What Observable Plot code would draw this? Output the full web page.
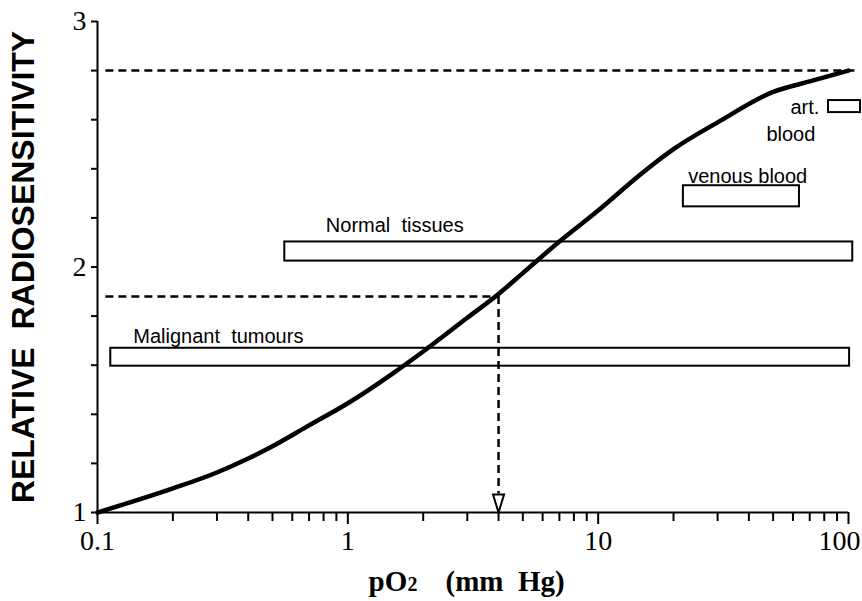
<!DOCTYPE html>
<html>
<head>
<meta charset="utf-8">
<script src="https://cdn.jsdelivr.net/npm/d3@7"></script>
<script src="https://cdn.jsdelivr.net/npm/@observablehq/plot@0.6"></script>
<style>
  html, body { margin: 0; padding: 0; background: white; }
</style>
</head>
<body>
<div id="chart"></div>
<script>
// Curve: relative radiosensitivity vs pO2 (mm Hg)
const po2 = [0.1, 0.2, 0.3, 0.4, 0.5, 0.7, 1, 1.5, 2, 3, 4, 5, 7, 10, 15, 20, 30, 50, 70, 100];
const sensitivity = [1.00, 1.098, 1.163, 1.22, 1.27, 1.355, 1.445, 1.564, 1.656, 1.793, 1.89, 1.975, 2.104, 2.23, 2.383, 2.48, 2.589, 2.713, 2.756, 2.80];

// Range boxes (pO2 range x sensitivity range)
const boxNames = ["Malignant tumours", "Normal tissues", "venous blood", "art. blood"];
const boxX1 = [0.113, 0.56, 21.9, 83.2];
const boxX2 = [101, 104, 63.7, 111.7];
const boxY1 = [1.596, 2.024, 2.245, 2.629];
const boxY2 = [1.669, 2.102, 2.331, 2.678];

// Box labels
const labelText = ["Normal\u00a0 tissues", "Malignant\u00a0 tumours", "venous blood", "art.", "blood"];
const labelX = [0.817, 0.139, 22.9, 58.6, 47];
const labelY = [2.141, 1.692, 2.344, 2.625, 2.515];

// Dashed reference lines
const refY = [2.8, 1.88];
const refX1 = [0.108, 0.108];
const refX2 = [107, 4];
const dropX = [4];
const dropY1 = [1.88];
const dropY2 = [1.075];

// Axes
const xMajorTicks = [0.1, 1, 10, 100];
const xMajorLabels = ["0.1", "1", "10", "100"];
const xMinorTicks = [0.2, 0.3, 0.4, 0.5, 0.6, 0.7, 0.8, 0.9, 2, 3, 4, 5, 6, 7, 8, 9, 20, 30, 40, 50, 60, 70, 80, 90];
const yTicks = [1, 1.2, 1.4, 1.6, 1.8, 2, 2.2, 2.4, 2.6, 2.8, 3];
const yTickLabels = ["1", "", "", "", "", "2", "", "", "", "", "3"];
const xTitle = ["pO", "2", "(mm\u00a0 Hg)"];
const yTitle = "RELATIVE\u00a0\u00a0RADIOSENSITIVITY";

const curveData = po2.map((x, i) => ({x, y: sensitivity[i]}));
const boxes = boxNames.map((name, i) => ({name, x1: boxX1[i], x2: boxX2[i], y1: boxY1[i], y2: boxY2[i]}));
const labels = labelText.map((t, i) => ({t, x: labelX[i], y: labelY[i]}));
const refs = refY.map((y, i) => ({y, x1: refX1[i], x2: refX2[i]}));
const drops = dropX.map((x, i) => ({x, y1: dropY1[i], y2: dropY2[i]}));
const xLabels = xMajorTicks.map((x, i) => ({x, t: xMajorLabels[i]}));
const xLabelsInner = xLabels.slice(0, -1);
const xLabelsLast = xLabels.slice(-1);
const yLabels = yTicks.map((y, i) => ({y, t: yTickLabels[i]})).filter(d => d.t !== "");

const openTriangle = {
  draw(context) {
    context.moveTo(-5.5, -18);
    context.lineTo(5.5, -18);
    context.lineTo(0, 0);
    context.closePath();
  }
};

const serif = "'Liberation Serif', 'Times New Roman', serif";
const sans = "'Liberation Sans', Arial, sans-serif";

const chart = Plot.plot({
  width: 862,
  height: 601,
  marginLeft: 97,
  marginRight: 14,
  marginTop: 21,
  marginBottom: 89,
  x: {type: "log", domain: [0.1, 100]},
  y: {domain: [1, 3]},
  style: {background: "white", fontFamily: serif, color: "black", overflow: "visible"},
  marks: [
    Plot.rect(boxes, {x1: "x1", x2: "x2", y1: "y1", y2: "y2", fill: "none", stroke: "black", strokeWidth: 2}),
    Plot.text(labels, {x: "x", y: "y", text: "t", textAnchor: "start", lineAnchor: "bottom", fontFamily: sans, fontSize: 20, fill: "black"}),
    Plot.ruleY(refs, {y: "y", x1: "x1", x2: "x2", stroke: "black", strokeWidth: 2.5, strokeDasharray: "8,5"}),
    Plot.ruleX(drops, {x: "x", y1: "y1", y2: "y2", stroke: "black", strokeWidth: 2.5, strokeDasharray: "8,5"}),
    Plot.line(curveData, {x: "x", y: "y", stroke: "black", strokeWidth: 4.5, curve: "monotone-x"}),
    // axis lines
    Plot.ruleX([0.1], {y1: 1, y2: 3, stroke: "black", strokeWidth: 2}),
    Plot.ruleY([1], {x1: 0.1, x2: 100, stroke: "black", strokeWidth: 2}),
    // ticks
    Plot.axisX(xMinorTicks, {tickSize: 9, tickFormat: () => "", strokeWidth: 2, label: null}),
    Plot.axisX(xMajorTicks, {tickSize: 12, tickFormat: () => "", strokeWidth: 2, label: null}),
    Plot.axisY(yTicks, {tickSize: 6, tickFormat: () => "", strokeWidth: 2, label: null}),
    // tick labels
    Plot.text(xLabelsInner, {x: "x", text: "t", frameAnchor: "bottom", dy: 18, lineAnchor: "top", textAnchor: "middle", fontSize: 28, fontFamily: serif, fill: "black"}),
    Plot.text(xLabelsLast, {x: "x", text: "t", frameAnchor: "bottom", dx: 12, dy: 18, lineAnchor: "top", textAnchor: "end", fontSize: 28, fontFamily: serif, fill: "black"}),
    Plot.text(yLabels, {y: "y", text: "t", frameAnchor: "left", dx: -11, lineAnchor: "middle", textAnchor: "end", fontSize: 28, fontFamily: serif, fill: "black"}),
    // drop arrow head
    Plot.dot(dropX, {x: d => d, y: () => 1, symbol: openTriangle, fill: "white", stroke: "black", strokeWidth: 2}),
    // axis titles
    Plot.text([xTitle[0]], {frameAnchor: "bottom-left", dx: 271, dy: 78, textAnchor: "start", lineAnchor: "bottom", fontSize: 29, fontWeight: "bold", fontFamily: serif, fill: "black"}),
    Plot.text([xTitle[1]], {frameAnchor: "bottom-left", dx: 310, dy: 78, textAnchor: "start", lineAnchor: "bottom", fontSize: 20, fontWeight: "bold", fontFamily: serif, fill: "black"}),
    Plot.text([xTitle[2]], {frameAnchor: "bottom-left", dx: 348, dy: 78, textAnchor: "start", lineAnchor: "bottom", fontSize: 29, fontWeight: "bold", fontFamily: serif, fill: "black"}),
    Plot.text([yTitle], {frameAnchor: "left", dx: -74, rotate: -90, textAnchor: "middle", lineAnchor: "middle", fontSize: 32, fontWeight: "bold", fontFamily: sans, fill: "black"})
  ]
});

document.getElementById("chart").appendChild(chart);
</script>
</body>
</html>
